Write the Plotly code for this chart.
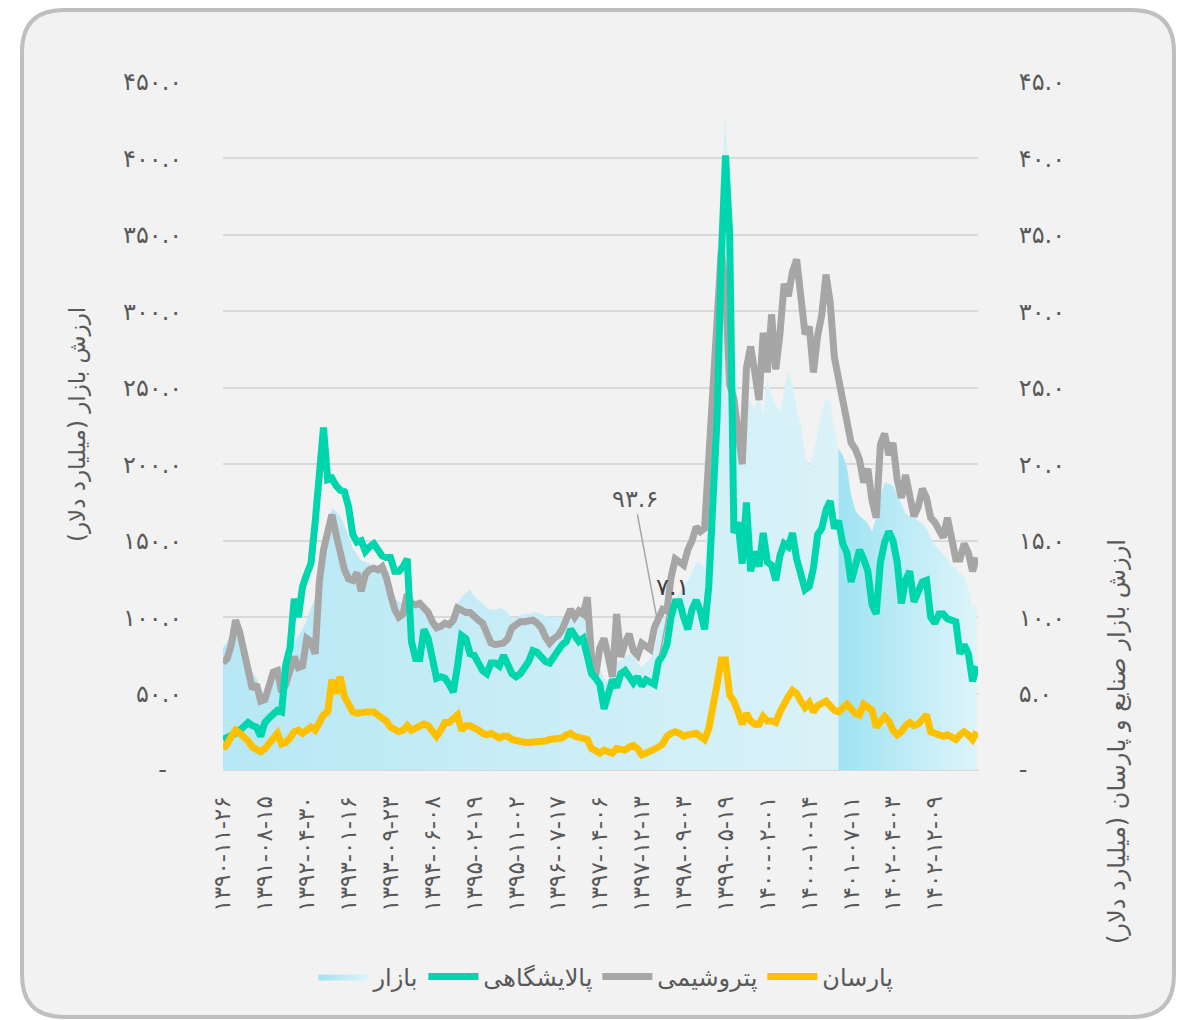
import plotly.graph_objects as go

# ---------------- data ----------------
date_labels = ["1390-11-26", "1391-08-15", "1392-04-30", "1393-01-16", "1393-09-23",
               "1394-06-08", "1395-02-19", "1395-11-02", "1396-07-17", "1397-04-06",
               "1397-12-13", "1398-09-03", "1399-05-19", "1400-02-01", "1400-10-14",
               "1401-07-11", "1402-04-03", "1402-12-09"]
label_step = 10

market = [80, 84, 90, 96, 91, 83, 75, 64, 60, 52,
          51, 56, 62, 66, 68, 72, 78, 84, 88, 92,
          98, 106, 112, 134, 152, 162, 171, 169, 166, 160,
          152, 145, 141, 137, 136, 135, 134, 132, 130, 126,
          120, 112, 110, 109, 112, 109, 108, 108, 107, 104,
          99, 95, 94, 96, 98, 102, 109, 113, 116, 118,
          114, 111, 109, 106, 105, 105, 106, 105, 103, 99,
          99, 101, 102, 102, 103, 103, 102, 101, 100, 100,
          100, 100, 101, 105, 103, 102, 108, 116, 88, 72,
          67, 60, 58, 64, 71, 72, 74, 76, 74, 70,
          67, 70, 73, 78, 93.6, 98, 102, 108, 112, 116,
          120, 124, 129, 136, 135, 132, 180, 255, 300, 380,
          430, 370, 285, 232, 215, 245, 240, 236, 244, 232,
          255, 245, 238, 234, 248, 262, 252, 236, 226, 206,
          198, 208, 220, 234, 244, 240, 222, 210, 206, 198,
          180, 170, 166, 164, 161, 156, 165, 178, 188, 187,
          186, 180, 174, 168, 166, 165, 163, 161, 158, 152,
          147, 144, 141, 138, 134, 132, 129, 126, 118, 106,
          110]

petro = [7.0, 7.3, 8.2, 9.8, 9.0, 7.9, 6.8, 5.3, 5.6, 4.5,
         4.6, 5.6, 6.4, 6.5, 5.1, 5.6, 6.4, 7.4, 6.7, 6.8,
         8.6, 8.4, 7.6, 12.3, 14.4, 15.4, 16.7, 15.4, 14.3, 13.1,
         12.5, 12.4, 12.9, 11.7, 12.8, 13.1, 13.2, 13.1, 13.3, 12.6,
         11.5, 10.5, 10.0, 10.2, 11.5, 10.9, 10.8, 10.9, 10.6, 10.3,
         9.7, 9.3, 9.4, 9.6, 9.5, 9.8, 10.6, 10.4, 10.3, 10.3,
         10.0, 9.8, 9.6, 8.8, 8.3, 8.2, 8.3, 8.3, 8.6, 9.3,
         9.5, 9.7, 9.7, 9.8, 9.8, 9.6, 9.3, 8.7, 8.3, 8.6,
         8.8, 9.2, 9.8, 10.5, 10.0, 10.4, 10.2, 11.3, 7.4, 6.2,
         8.0, 8.6, 7.4, 6.1, 10.2, 7.4, 8.3, 8.9, 7.8, 7.5,
         8.3, 8.1, 7.9, 9.3, 10.0, 10.5, 10.4, 12.6, 13.8, 13.6,
         13.4, 14.4, 15.0, 15.9, 15.6, 15.8, 20.5, 25.8, 30.5, 34.0,
         31.5, 25.2, 24.3, 21.8, 20.0, 26.3, 27.7, 26.0, 24.2, 28.6,
         26.0, 29.8, 26.2, 28.5, 31.8, 31.0, 32.6, 33.4, 31.2, 28.5,
         29.0, 26.0, 28.4, 29.8, 32.4, 30.6, 27.0, 25.6, 24.2, 23.3,
         21.4, 21.0, 20.3, 18.8, 19.7, 17.6, 16.5, 21.3, 22.0, 20.6,
         21.4, 19.0, 17.8, 19.3, 17.9, 16.6, 17.2, 18.4, 17.8, 16.5,
         16.2, 15.6, 15.2, 16.5, 14.9, 13.8, 13.8, 14.8, 14.2, 13.0,
         13.9]

refinery = [2.0, 2.1, 2.3, 2.4, 2.6, 2.8, 3.1, 2.9, 2.8, 2.2,
            3.1, 3.4, 3.6, 3.9, 3.8, 6.9, 8.0, 11.2, 10.0, 12.0,
            12.8, 13.5, 16.2, 19.8, 22.4, 19.0, 19.1, 18.6, 18.3, 18.2,
            17.2, 15.4, 14.9, 15.0, 14.3, 14.6, 14.8, 14.4, 14.0, 13.9,
            13.9, 13.0, 13.0, 13.3, 13.8, 8.4, 7.3, 7.3, 9.2, 8.6,
            7.2, 6.0, 6.1, 6.0, 5.6, 5.1, 6.8, 8.8, 8.6, 7.6,
            7.5, 7.0, 6.5, 6.3, 7.0, 7.0, 6.8, 7.5, 7.0, 6.3,
            6.1, 6.3, 6.7, 7.1, 7.8, 7.7, 7.4, 7.1, 7.0, 7.4,
            7.9, 8.2, 8.4, 9.2, 8.8, 8.4, 8.6, 7.6, 6.3, 6.0,
            5.6, 4.0, 5.0, 5.9, 5.4, 6.3, 6.5, 6.1, 5.7, 6.1,
            5.5, 5.9, 5.8, 5.6, 7.1, 7.5, 8.2, 10.0, 11.0, 11.0,
            10.0, 9.2, 10.5, 11.1, 10.4, 9.2, 12.0, 17.0, 23.1, 33.5,
            40.2, 35.0, 15.5, 16.2, 13.5, 17.5, 13.0, 14.3, 13.3, 15.5,
            13.6, 13.4, 12.4, 14.0, 14.8, 14.6, 15.5, 13.8, 12.8, 11.8,
            12.0, 13.2, 15.4, 15.8, 17.0, 17.6, 15.8, 16.3, 14.8, 14.2,
            12.3, 13.2, 14.4, 13.8, 13.0, 10.8, 10.2, 13.6, 14.9, 15.6,
            15.0, 13.6, 10.9, 12.4, 13.0, 11.0, 11.6, 12.3, 12.4, 10.0,
            9.6, 10.2, 10.2, 9.9, 9.8, 9.7, 7.6, 8.2, 7.6, 5.8,
            6.8]

parsan = [1.4, 1.7, 2.2, 2.6, 2.4, 2.2, 1.9, 1.5, 1.4, 1.2,
          1.4, 1.8, 2.1, 2.4, 1.7, 1.8, 2.1, 2.5, 2.6, 2.4,
          2.6, 2.8, 2.6, 3.2, 3.6, 3.8, 5.9, 5.0, 6.1, 4.8,
          4.3, 3.8, 3.7, 3.8, 3.8, 3.8, 3.8, 3.6, 3.4, 3.2,
          2.8, 2.6, 2.5, 2.6, 2.9, 2.6, 2.7, 2.8, 3.0, 2.9,
          2.5, 2.2, 2.6, 3.1, 3.1, 3.3, 3.6, 2.6, 2.9, 2.9,
          2.8, 2.6, 2.4, 2.3, 2.4, 2.2, 2.1, 2.2, 2.2, 2.0,
          1.9, 1.8, 1.8, 1.8, 1.8, 1.8, 1.8, 1.9, 2.0, 2.0,
          2.1, 2.1, 2.3, 2.4, 2.2, 2.1, 2.0, 2.0, 1.4, 1.2,
          1.1, 1.3, 1.2, 1.1, 1.4, 1.4, 1.3, 1.5, 1.6, 1.4,
          1.0, 1.1, 1.2, 1.3, 1.5, 1.7, 2.2, 2.4, 2.5, 2.4,
          2.2, 2.3, 2.4, 2.4, 2.2, 2.0, 2.7, 4.5, 5.6, 7.2,
          7.2, 4.9, 4.5, 3.8, 3.0, 3.7, 3.2, 3.0, 3.0, 3.5,
          3.2, 3.2, 3.1, 3.8, 4.4, 4.8, 5.2, 5.0, 4.5, 4.1,
          4.4, 3.8, 4.2, 4.3, 4.5, 4.2, 3.9, 3.8, 4.1, 4.3,
          4.0, 3.7, 3.6, 4.3, 4.1, 3.9, 2.8, 3.1, 3.5, 3.2,
          2.6, 2.3, 2.5, 2.9, 3.1, 2.9, 3.0, 3.3, 3.6, 2.5,
          2.4, 2.3, 2.2, 2.3, 2.1, 2.0, 2.3, 2.5, 2.3, 2.0,
          2.5]

highlight_start = 147          # index where the highlighted market period begins
annot_index = 104              # point carrying the two data labels
left_ticks = [0, 50, 100, 150, 200, 250, 300, 350, 400, 450]
right_ticks = [0, 5, 10, 15, 20, 25, 30, 35, 40, 45]

names = {"market": "بازار", "refinery": "پالایشگاهی", "petro": "پتروشیمی", "parsan": "پارسان"}
left_title = "ارزش بازار (میلیارد دلار)"
right_title = "ارزش بازار صنایع و پارسان (میلیارد دلار)"

# ---------------- helpers ----------------
FA = str.maketrans("0123456789", "۰۱۲۳۴۵۶۷۸۹")


def fa(s):
    return str(s).translate(FA)


def rtl(s):
    return "\u200f" + s + "\u200f"


def fa_date(d):
    return "\u200e-\u200e".join(fa(p) for p in d.split("-"))


def tick_txt(v, pad=""):
    return "-" + pad if v == 0 else fa(f"{v:.1f}")


x = list(range(len(market)))
TXT = "#595959"
FONT = "DejaVu Sans, sans-serif"
LW = 7

fig = go.Figure()

# market area – normal period
fig.add_trace(go.Scatter(
    x=x[:highlight_start + 1], y=market[:highlight_start + 1], mode="lines",
    line=dict(width=0, color="#BCEAF6"), fill="tozeroy",
    fillgradient=dict(type="horizontal", colorscale=[[0, "#B7E8F5"], [1, "#DAF2F8"]]),
    name=rtl(names["market"]), legendgroup="m", showlegend=False, yaxis="y"))
# market area – highlighted period
fig.add_trace(go.Scatter(
    x=x[highlight_start:], y=market[highlight_start:], mode="lines",
    line=dict(width=0, color="#A5E5F4"), fill="tozeroy",
    fillgradient=dict(type="horizontal", colorscale=[[0, "#9FE3F3"], [1, "#DDF4F9"]]),
    name=rtl(names["market"]), legendgroup="m", legendrank=1, yaxis="y"))

fig.add_trace(go.Scatter(x=x, y=petro, mode="lines", name=rtl(names["petro"]),
                         line=dict(color="#A6A6A6", width=LW), legendrank=3, yaxis="y2"))
fig.add_trace(go.Scatter(x=x, y=refinery, mode="lines", name=rtl(names["refinery"]),
                         line=dict(color="#00D6AD", width=LW), legendrank=2, yaxis="y2"))
fig.add_trace(go.Scatter(x=x, y=parsan, mode="lines", name=rtl(names["parsan"]),
                         line=dict(color="#FFC000", width=LW), legendrank=4, yaxis="y2"))

# ---------------- geometry (page has an 8px body margin) ----------------
OFF = 8
W, H = 1191 - OFF, 1020 - OFF
ML, MR, MT, MB = 223 - OFF, 213, 82 - OFF, 250
PW, PH = W - ML - MR, H - MT - MB


def P(px, py):
    """screen pixel -> paper coordinates"""
    return ((px - OFF - ML) / PW, (H - MB - (py - OFF)) / PH)


def pt(px, py):
    a, b = P(px, py)
    return f"{a:.5f},{b:.5f}"


x0, x1, y0, y1, r = 22, 1174, 10, 1017, 42
path = (f"M{pt(x0 + r, y0)} L{pt(x1 - r, y0)} Q{pt(x1, y0)} {pt(x1, y0 + r)} "
        f"L{pt(x1, y1 - r)} Q{pt(x1, y1)} {pt(x1 - r, y1)} "
        f"L{pt(x0 + r, y1)} Q{pt(x0, y1)} {pt(x0, y1 - r)} "
        f"L{pt(x0, y0 + r)} Q{pt(x0, y0)} {pt(x0 + r, y0)} Z")

fig.add_shape(type="path", path=path, xref="paper", yref="paper", layer="below",
              fillcolor="#F2F2F2", line=dict(color="#BFBFBF", width=4))

# ---------------- annotations ----------------
fig.add_annotation(x=annot_index, y=market[annot_index], xref="x", yref="y",
                   text=fa(f"{market[annot_index]:.1f}"), showarrow=True, arrowhead=0,
                   arrowwidth=1.5, arrowcolor="#A6A6A6", ax=-24, ay=-128, standoff=10,
                   font=dict(size=24, color=TXT, family=FONT))
fig.add_annotation(x=annot_index, y=refinery[annot_index], xref="x", yref="y2",
                   text=fa(f"{refinery[annot_index]:.1f}"), showarrow=True, arrowhead=0,
                   arrowwidth=1.5, arrowcolor="#A6A6A6", ax=14, ay=-74, standoff=6,
                   font=dict(size=24, color="#404040", family=FONT))

lx, ly = P(77, 425)
fig.add_annotation(x=lx, y=ly, xref="paper", yref="paper", text=rtl(left_title),
                   xanchor="center", yanchor="middle",
                   textangle=-90, showarrow=False, font=dict(size=23, color=TXT, family=FONT))
rx, ry = P(1117, 742)
fig.add_annotation(x=rx, y=ry, xref="paper", yref="paper", text=rtl(right_title),
                   xanchor="center", yanchor="middle",
                   textangle=-90, showarrow=False, font=dict(size=24, color=TXT, family=FONT))

# ---------------- layout ----------------
lgx, lgy = P(606, 977)
fig.update_layout(
    width=W, height=H,
    margin=dict(l=ML, r=MR, t=MT, b=MB, pad=0),
    paper_bgcolor="#FFFFFF", plot_bgcolor="rgba(0,0,0,0)",
    font=dict(family=FONT, color=TXT),
    showlegend=True,
    legend=dict(orientation="h", x=lgx, y=lgy, xanchor="center", yanchor="middle",
                font=dict(size=24, color=TXT, family=FONT), bgcolor="rgba(0,0,0,0)",
                itemwidth=50, traceorder="normal"),
    xaxis=dict(range=[0, len(market) - 0.7], tickmode="array",
               tickvals=[i * label_step for i in range(len(date_labels))],
               ticktext=[fa_date(d) for d in date_labels], tickangle=-90,
               tickfont=dict(size=23, color=TXT, family=FONT),
               showgrid=False, zeroline=False, showline=False,
               ticks="outside", ticklen=0, ticklabelstandoff=16),
    yaxis=dict(range=[0, 450], tickmode="array", tickvals=left_ticks,
               ticktext=[tick_txt(v, "\u00a0\u00a0") for v in left_ticks],
               tickfont=dict(size=24, color=TXT, family=FONT),
               showgrid=True, gridcolor="#D9D9D9", gridwidth=1.5,
               zeroline=True, zerolinecolor="#D9D9D9", zerolinewidth=1.5,
               showline=False, ticks="outside", ticklen=0, ticklabelstandoff=35),
    yaxis2=dict(range=[0, 45], overlaying="y", side="right", tickmode="array",
                tickvals=right_ticks, ticktext=[tick_txt(v) for v in right_ticks],
                tickfont=dict(size=24, color=TXT, family=FONT),
                showgrid=False, zeroline=False, showline=False,
                ticks="outside", ticklen=0, ticklabelstandoff=35),
)

fig.write_html("out.html")
